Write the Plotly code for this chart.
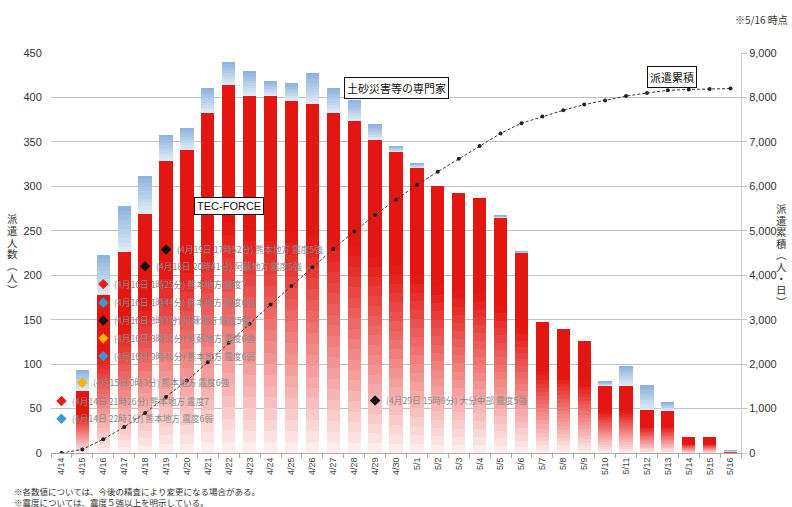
import plotly.graph_objects as go

# ---- data -------------------------------------------------------------
dates = ["4/14", "4/15", "4/16", "4/17", "4/18", "4/19", "4/20", "4/21", "4/22",
         "4/23", "4/24", "4/25", "4/26", "4/27", "4/28", "4/29", "4/30", "5/1",
         "5/2", "5/3", "5/4", "5/5", "5/6", "5/7", "5/8", "5/9", "5/10", "5/11",
         "5/12", "5/13", "5/14", "5/15", "5/16"]

# TEC-FORCE dispatched per day (people)
tec_force = [0, 70, 178, 226, 269, 329, 341, 383, 414, 402, 402, 397, 393, 383,
             373, 353, 339, 321, 300, 293, 287, 265, 225, 147, 139, 126, 76, 76,
             48, 48, 17, 17, 2]

# landslide / sediment-disaster experts dispatched per day (people)
experts = [0, 23, 45, 52, 43, 29, 25, 28, 26, 28, 17, 19, 34, 28, 24, 17, 6, 5,
           0, 0, 0, 2, 2, 0, 0, 0, 4, 22, 28, 9, 0, 0, 1]

# cumulative dispatch (person-days)
cumulative = [0, 80, 310, 585, 900, 1260, 1630, 2040, 2480, 2910, 3340, 3755,
              4180, 4590, 4985, 5355, 5700, 6030, 6330, 6620, 6910, 7190, 7420,
              7570, 7710, 7840, 7930, 8030, 8100, 8160, 8180, 8190, 8200]

# earthquakes of intensity 5+ : (date, label, intensity)
quakes = [
    ("4/19", "(4月19日 17時52分) 熊本地方 震度5強", "5強"),
    ("4/18", "(4月18日 20時41分) 阿蘇地方 震度5強", "5強"),
    ("4/16", "(4月16日 1時25分) 熊本地方 震度7", "7"),
    ("4/16", "(4月16日 1時44分) 熊本地方 震度6弱", "6弱"),
    ("4/16", "(4月16日 3時3分) 阿蘇地方 震度5強", "5強"),
    ("4/16", "(4月16日 3時55分) 阿蘇地方 震度6強", "6強"),
    ("4/16", "(4月16日 9時48分) 熊本地方 震度6弱", "6弱"),
    ("4/15", "(4月15日 0時3分) 熊本地方 震度6強", "6強"),
    ("4/14", "(4月14日 21時26分) 熊本地方 震度7", "7"),
    ("4/14", "(4月14日 22時7分) 熊本地方 震度6弱", "6弱"),
    ("4/29", "(4月29日 15時9分) 大分中部 震度5強", "5強"),
]

# ---- styling ----------------------------------------------------------
JP = "Noto Sans CJK JP"
NUM = "Liberation Sans"
intensity_colors = {"7": "#e3201b", "6強": "#f2b400", "6弱": "#3a98d6", "5強": "#111111"}
# vertical placement of each quake label row (left-axis units)
quake_rows = [229, 210, 190, 169, 149, 129, 109, 79, 58.5, 38.5, 59]

PLOT_L, PLOT_T, PLOT_W, PLOT_H = 51, 53, 690, 400


def lerp(c0, c1, s):
    return "rgb(%d,%d,%d)" % tuple(round(a + (b - a) * s) for a, b in zip(c0, c1))


fig = go.Figure()

# red bars fade from solid red at the top to near white at the bottom
N_RED = 32
red_top, red_bottom = (228, 22, 18), (253, 242, 242)
for k in range(N_RED):
    t = (k + 0.5) / N_RED
    fig.add_bar(x=dates, y=[v / N_RED for v in tec_force],
                marker=dict(color=lerp(red_bottom, red_top, min(t / 0.62, 1.0)),
                            line=dict(width=0)),
                hoverinfo="skip", showlegend=False)

# blue expert segments stacked on top, light at the base, darker at the top
N_BLUE = 10
blue_top, blue_bottom = (138, 176, 219), (226, 236, 247)
for k in range(N_BLUE):
    t = (k + 0.5) / N_BLUE
    fig.add_bar(x=dates, y=[v / N_BLUE for v in experts],
                marker=dict(color=lerp(blue_bottom, blue_top, t), line=dict(width=0)),
                hoverinfo="skip", showlegend=False)

# earthquake markers
fig.add_scatter(
    x=[q[0] for q in quakes], y=quake_rows, mode="markers",
    marker=dict(symbol="diamond", size=8,
                color=[intensity_colors[q[2]] for q in quakes]),
    hoverinfo="skip", showlegend=False)
# and their descriptions
for (d, label, _), row in zip(quakes, quake_rows):
    fig.add_annotation(x=d, y=row, text=label, showarrow=False, xanchor="left",
                       yanchor="middle", xshift=9,
                       font=dict(family=JP, size=8.7, color="#8a8a8a"))

# cumulative line on the secondary axis
fig.add_scatter(x=dates, y=cumulative, yaxis="y2", mode="lines+markers",
                line=dict(color="#3a3a3a", width=1, dash="3px,2px"),
                marker=dict(size=4, color="#222222"),
                hoverinfo="skip", showlegend=False)

fig.update_layout(
    width=792, height=507,
    margin=dict(l=PLOT_L, r=792 - PLOT_L - PLOT_W, t=PLOT_T, b=507 - PLOT_T - PLOT_H),
    paper_bgcolor="white", plot_bgcolor="white",
    barmode="stack", bargap=0.365,
    font=dict(family=NUM, color="#333333"),
    xaxis=dict(type="category", range=[-0.5, len(dates) - 0.5],
               tickangle=-90, tickfont=dict(size=9, color="#444"),
               showline=True, linecolor="#aaaaaa", linewidth=1,
               ticks="outside", tickson="boundaries", ticklen=4, tickcolor="#aaaaaa",
               showgrid=False),
    yaxis=dict(range=[0, 450], dtick=50, showgrid=True, gridcolor="#c2c2c2",
               gridwidth=1, zeroline=False, tickfont=dict(size=11, color="#333"),
               ticks="outside", ticklen=6, tickcolor="rgba(0,0,0,0)"),
    yaxis2=dict(range=[0, 9000], dtick=1000, overlaying="y", side="right",
                showgrid=False, zeroline=False, tickformat=",",
                tickfont=dict(size=11, color="#333"),
                showline=True, linecolor="#d0d0d0", linewidth=1,
                ticks="outside", ticklen=5, tickcolor="#c2c2c2"),
)

# series labels
box = dict(showarrow=False, bgcolor="white", bordercolor="#111", borderwidth=1,
           borderpad=2, yref="y", xanchor="center", yanchor="middle")
fig.add_annotation(x="4/22", y=278, text="TEC-FORCE",
                   font=dict(family=NUM, size=11, color="#111"), **box)
fig.add_annotation(x="4/30", y=410.5, text="土砂災害等の専門家",
                   font=dict(family=JP, size=11, color="#111"), **box)
fig.add_annotation(x="5/13", xshift=4, y=423, text="派遣累積",
                   font=dict(family=JP, size=11, color="#111"), **box)


def px_x(x):
    return (x - PLOT_L) / PLOT_W


def px_y(y):
    return 1 - (y - PLOT_T) / PLOT_H


# vertical axis titles, one glyph per row
def vertical_title(chars, x_px, y0_px, step):
    for i, ch in enumerate(chars):
        fig.add_annotation(xref="paper", yref="paper", showarrow=False,
                           x=px_x(x_px), y=px_y(y0_px + i * step),
                           xanchor="center", yanchor="middle", text=ch,
                           height=step, valign="middle",
                           font=dict(family=JP, size=10.5, color="#333"))


vertical_title(["派", "遣", "人", "数", "︵", "人", "︶"], 12, 219, 11.8)
vertical_title(["派", "遣", "累", "積", "︵", "人", "・", "日", "︶"], 781, 209, 11.6)

# notes
fig.add_annotation(xref="paper", yref="paper", x=px_x(790), y=px_y(19),
                   xanchor="right", yanchor="middle", showarrow=False,
                   text="※5/16 時点", font=dict(family=JP, size=10, color="#333"))
fig.add_annotation(xref="paper", yref="paper", x=px_x(12), y=px_y(491),
                   xanchor="left", yanchor="middle", showarrow=False,
                   text="※各数値については、今後の精査により変更になる場合がある。",
                   font=dict(family=JP, size=8.5, color="#333"))
fig.add_annotation(xref="paper", yref="paper", x=px_x(12), y=px_y(502),
                   xanchor="left", yanchor="middle", showarrow=False,
                   text="※震度については、震度５強以上を明示している。",
                   font=dict(family=JP, size=8.5, color="#333"))

fig.write_html("out.html")
